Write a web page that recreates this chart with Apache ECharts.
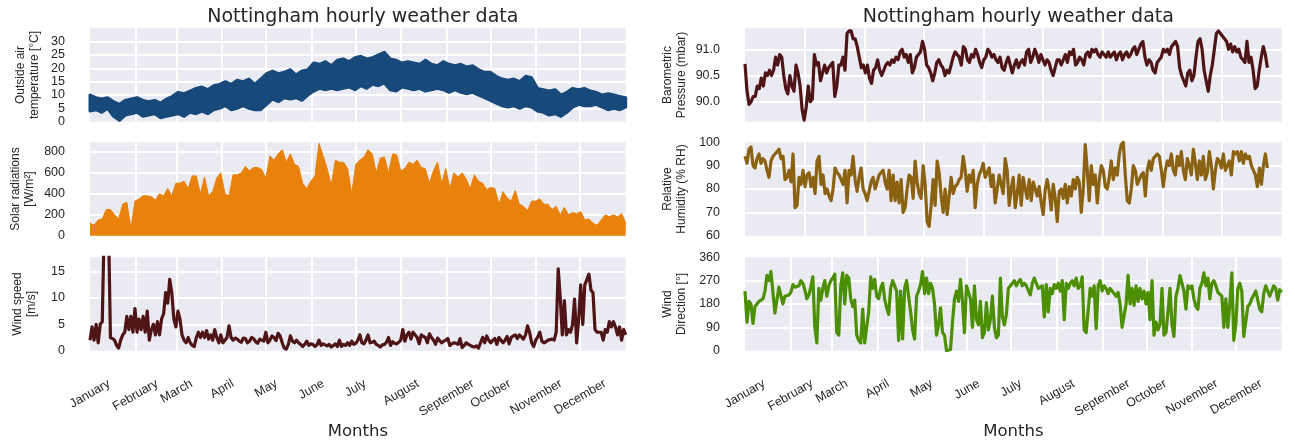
<!DOCTYPE html>
<html><head><meta charset="utf-8">
<script src="https://cdn.jsdelivr.net/npm/echarts@6/dist/echarts.min.js"></script>
<style>html,body{margin:0;padding:0;background:#fff}#c{width:1295px;height:444px}</style>
</head><body><div id="c"></div>
<script>
const titleText = 'Nottingham hourly weather data';
const months = ['January','February','March','April','May','June','July','August','September','October','November','December'];
const monthStartDays = [0,31,59,90,120,151,181,212,243,273,304,334];

// Outside air temperature: upper / lower envelope of hourly values, every ~4 days
const tempHigh = [10,9,8.5,9,7.5,6.5,8,8.5,9,8,7.5,8,7,8.5,9.5,11,10.5,11.5,12.5,13,12,13.5,14,15,14,15.5,15,16,14,16,18,19,18,18.5,19.5,17.5,19,19.5,22,21.5,22.5,21,23,23.5,22.5,24,24.5,23.5,24,25,26,23.5,23,22,22.5,22,21.5,23,21.5,21,22.5,21.5,21,21.5,20.5,21,19.5,18.5,18.5,17,16,15.5,16,15,17,16.5,12.5,12,11.5,12,10,11,12.5,12,12.5,11.5,11,10,10.5,10,9.5,9];
const tempLow = [4,4.5,3.5,5,2,0.5,2.5,3,3.5,2,2.5,3,1.5,2,2.5,3,2,3.5,3,4,3,4.5,5,6,4.5,5,6,5,4.5,4.5,6.5,8.5,7.5,9,8.5,9,8,10,11.5,12.5,12,12.5,12,12.5,13,12,13.5,12.5,14,13.5,14.5,12,11.5,13,12.5,12,12.5,11.5,12,12.5,12,11,12,11,10.5,11,10,9,8,7,6,5.5,6,5,6,5.5,4,3.5,2.5,3,2,3.5,5.5,6.5,6,6,6.5,5.5,4.5,5,4.5,5.5];

// Solar radiation: daily peak values (W/m2)
const solarPeak = [120,100,150,160,250,250,200,160,300,320,70,330,350,380,380,370,340,400,380,450,380,500,500,520,450,570,570,400,560,380,420,550,600,400,380,580,580,600,660,620,650,650,630,550,760,720,780,820,700,780,680,660,500,450,520,570,880,760,640,480,720,700,700,640,400,680,720,750,820,780,600,740,750,600,780,770,620,640,700,680,720,650,640,500,620,700,500,640,450,600,560,600,540,450,580,520,500,440,460,450,300,420,360,330,430,300,280,240,330,330,350,300,300,250,280,200,270,200,220,210,230,150,160,120,100,150,200,180,200,180,210,120];

// Wind speed (m/s)
const windSpeed = [2,4.5,2,5,1.5,5,5.5,25,27,25,2.5,2.3,2,1,0.5,2,3,3.5,6.5,4,6.5,3.5,8,3.5,6,4,6.5,3.5,7.5,2,4,5,3,5.5,3,6,7,11,9,13.5,11,6,4.5,7.5,6,3,2,1.5,2.5,1.5,1,0.8,2.5,3.5,2.5,3.5,2.5,3.8,2.2,3,2,4,2.5,1.5,3,1.5,2,2.5,4.7,2.5,2,2.4,2.2,1.8,1.6,2.4,2.3,1.5,1.8,2.5,2.3,1.7,1.4,2.2,2,1.8,3.5,1.5,2,2.8,2.5,1.9,3.3,2.8,1.5,0.5,0.3,1.2,2.8,1.8,1.5,2,1.5,1.2,0.8,1.2,1.8,1,1.3,1.2,0.8,1.1,2,1,1.3,1.1,0.9,1.2,0.7,1,1.3,0.8,2,0.8,1.2,1,1.5,1,1.8,1.2,1.4,2,3,1.5,1.3,2,3,1.5,1.6,1.8,1.2,1,0.7,1.1,1.2,1.6,2.5,1,1.7,1.4,1.3,1.6,2,4,1.8,3,3.5,2.2,3.5,3,2.5,1.3,3,2.7,2.5,1.5,3.2,2.5,2,1.2,2.4,1.9,1.5,1.8,2,2.3,1,1.3,1.5,1.4,1.2,2.3,0.6,1,1.5,1.2,1,0.8,0.7,0.9,0.5,1.5,2.5,1.5,2.8,2,1.5,2,2.3,1.2,2.5,2,1.5,2,2.7,1.3,2.5,2.8,3,2.3,3,2.6,2.2,3,4.7,3.5,1.5,0.8,2,2.6,3.5,1.8,1.5,1.7,2,2.1,2.2,2,3.5,15.5,10,3,9.5,3,4,3.5,5,9.8,1.5,6,12.5,5,12.5,13.5,14.5,11.5,11,4,3.5,3.5,3.5,2,4,3.5,5.5,4.5,5.5,4.5,3,4.5,2,4,3];

// Barometric pressure (mbar, as plotted)
const pressure = [90.72,90.2,89.95,90.0,90.1,90.1,90.3,90.25,90.45,90.3,90.55,90.5,90.6,90.5,90.6,90.85,90.7,90.9,90.85,90.5,90.25,90.15,90.5,90.3,90.2,90.7,90.55,90.3,89.85,89.65,89.9,90.3,90.0,90.05,90.9,90.7,90.75,90.4,90.55,90.7,90.55,90.65,90.7,90.75,90.1,90.3,90.7,90.7,90.85,90.6,91.3,91.35,91.35,91.2,91.2,91.05,90.85,90.65,90.7,90.55,90.7,90.45,90.35,90.6,90.65,90.8,90.6,90.5,90.6,90.7,90.75,90.7,90.8,90.75,90.85,90.8,90.95,91.0,90.85,90.9,90.75,90.9,90.55,90.65,90.85,90.9,90.95,91.15,91.0,90.7,90.65,90.55,90.4,90.55,90.75,90.8,90.7,90.65,90.5,90.6,90.55,90.7,90.85,90.95,90.9,90.85,90.7,91.05,91.0,90.8,90.75,90.9,90.85,91.0,90.9,90.75,90.65,90.8,90.85,91.0,90.95,90.85,90.9,90.8,90.75,90.85,90.65,90.6,90.75,90.85,90.7,90.55,90.7,90.8,90.65,90.75,90.8,90.7,90.95,91.0,90.75,90.85,91.0,90.9,90.75,90.9,90.8,90.7,90.8,90.75,90.6,90.5,90.65,90.8,90.8,90.7,90.8,90.9,90.75,90.95,90.9,91.0,90.7,90.75,90.85,90.8,90.7,90.9,90.95,90.85,91.0,90.95,91.0,90.9,90.85,90.95,90.9,90.85,90.95,90.85,90.9,90.95,90.8,90.9,90.95,90.8,90.9,90.95,90.85,90.9,91.0,91.05,90.9,91.0,91.1,91.15,90.85,90.7,90.8,90.75,90.6,90.55,90.75,90.8,90.85,91.0,90.95,91.0,90.9,91.05,91.1,91.15,91.05,90.65,90.5,90.4,90.3,90.55,90.6,90.4,90.5,90.85,91.15,91.2,91.0,90.6,90.4,90.2,90.5,90.7,91.0,91.3,91.35,91.3,91.25,91.2,91.15,91.0,91.1,90.95,91.05,90.95,91.0,90.85,90.8,90.75,91.15,90.75,90.85,90.6,90.25,90.3,90.6,90.85,91.05,90.9,90.65];

// Relative humidity (% RH)
const humidity = [94,91,97,98,90,89,93,95,91,93,92,88,85,92,94,95,96,97,93,94,84,85,88,83,95,72,73,85,82,88,81,86,87,81,85,78,92,94,82,86,78,80,77,75,80,89,87,86,84,82,88,74,88,86,94,84,79,85,89,80,78,75,79,83,85,80,83,86,87,88,83,80,88,75,86,75,83,74,84,70,72,80,86,85,76,92,83,78,76,90,82,66,64,73,84,73,92,87,77,70,80,69,77,85,78,81,82,84,85,94,88,79,86,83,88,72,82,86,88,91,85,87,89,81,86,74,80,86,82,78,93,88,73,80,85,72,78,86,73,85,80,76,84,75,83,80,77,81,74,69,80,84,79,71,82,76,66,79,80,76,82,74,81,77,84,80,85,83,70,80,99,88,75,90,82,86,74,84,90,88,81,80,85,92,84,89,86,95,99,100,86,75,74,80,90,88,82,84,86,87,77,88,92,88,93,94,95,94,88,81,88,92,90,95,88,86,94,90,96,88,84,93,90,86,97,91,84,92,86,94,84,87,96,90,80,88,93,92,89,95,88,90,92,86,96,95,96,92,96,91,95,93,94,90,88,86,81,89,82,90,95,89];

// Wind direction (degrees)
const windDir = [230,110,190,180,105,170,175,190,195,200,230,290,270,305,300,145,150,245,240,180,210,215,215,225,255,245,240,250,270,260,235,200,215,245,285,90,30,240,195,240,270,210,250,270,280,295,70,60,250,300,180,290,280,200,170,195,60,40,30,160,30,25,150,285,240,275,210,200,240,260,200,165,140,240,270,250,230,40,230,45,240,270,265,150,80,45,210,230,255,305,220,280,220,260,240,180,60,100,165,70,60,0,0,5,110,200,230,190,275,190,70,250,250,200,90,250,120,100,190,50,70,185,80,120,210,90,50,60,280,130,100,140,240,250,260,270,250,265,275,250,260,250,250,215,260,280,260,240,240,250,130,255,150,240,220,255,240,260,230,270,120,260,240,260,270,250,280,240,250,285,80,70,70,240,210,250,85,250,270,230,250,240,220,240,230,220,210,225,180,90,90,180,290,180,240,175,250,190,240,200,230,180,225,120,270,60,110,80,100,240,60,70,150,240,100,55,210,240,290,260,230,160,250,240,250,200,170,160,240,260,300,250,280,200,260,270,250,225,230,210,90,200,90,180,300,40,100,240,260,230,55,60,170,180,200,215,230,225,160,150,220,250,230,210,230,250,240,195,235,225];

const C = {temp:'#17497a', solar:'#e8820a', wind:'#4e1416', press:'#4e1416', hum:'#8b6212', dir:'#4c8f03', text:'#262626', bg:'#eaeaf2'};
const SANS = 'Liberation Sans';

function spread(arr, span){ return arr.map((v,i)=>[i*span/(arr.length-1), v]); }
const dayCats = Array.from({length:366}, (_, d) => String(d));

// rotated month labels: centre each label on its tick, top of rotated box on one line
const LBL = 12.5;
const meas = document.createElement('canvas').getContext('2d');
meas.font = LBL + 'px "' + SANS + '"';
const monthRich = {};
months.forEach((n,i)=>{
  const w = meas.measureText(n).width;
  const D = (w*0.5 + LBL*0.92*0.866)/2 + 0.5;
  monthRich['m'+i] = {fontSize:LBL, fontFamily:SANS, color:C.text, padding:[1.732*D, D, 0, 0]};
});

const GL = {left:90, width:535.7}, GR = {left:745, width:536.7};
const tops = [28.3, 142.3, 257.3], H = 93.4;
const grids = [];
[GL, GR].forEach(g => tops.forEach(t => grids.push({left:g.left, width:g.width, top:t, height:H, show:true, backgroundColor:C.bg, borderWidth:0})));

const splitStyle = {color:'#ffffff', width:2};
function isMonthStart(i){ return i>0 && monthStartDays.indexOf(i) >= 0; }
function dayValueAxis(gi){ return {type:'value', gridIndex:gi, min:0, max:365, show:false, position:'bottom'}; }
function monthAxis(gi, labels){
  const ax = {type:'category', gridIndex:gi, position:'bottom', data:dayCats, boundaryGap:false,
    axisLine:{show:false}, axisTick:{show:false},
    splitLine:{show:true, interval:(i)=>isMonthStart(i), lineStyle:splitStyle},
    axisLabel:{show:false}};
  if (labels) {
    ax.axisLabel = {show:true, interval:(i)=>monthStartDays.indexOf(i)>=0, rotate:30, align:'center', verticalAlign:'middle', margin:26.5,
      formatter:(v)=>{ const m = monthStartDays.indexOf(Number(v)); return m<0 ? '' : '{m'+m+'|'+months[m]+'}'; }, rich:monthRich};
    ax.name = 'Months'; ax.nameLocation = 'middle'; ax.nameGap = 73;
    ax.nameTextStyle = {fontFamily:'DejaVu Sans', fontSize:16.5, color:C.text};
  }
  return ax;
}
function hourAxis(gi){ return {type:'value', gridIndex:gi, min:0, max:9000, interval:1000, position:'bottom',
  axisLine:{show:false}, axisTick:{show:false}, axisLabel:{show:false},
  splitLine:{show:true, showMinLine:false, showMaxLine:false, lineStyle:splitStyle}}; }

function yAx(gi, name, gap, o){
  return Object.assign({type:'value', gridIndex:gi, position:'left', axisLine:{show:false}, axisTick:{show:false},
    splitLine:{show:true, showMinLine:false, showMaxLine:false, lineStyle:splitStyle},
    name:name, nameLocation:'middle', nameRotate:90, nameGap:gap,
    nameTextStyle:{fontFamily:SANS, fontSize:12, color:C.text, lineHeight:14},
    axisLabel:Object.assign({fontFamily:SANS, fontSize:12.5, color:C.text, margin:25}, o.label||{})}, o.axis);
}

const xAxis = [
  dayValueAxis(0), monthAxis(0,false),
  dayValueAxis(1), monthAxis(1,false),
  dayValueAxis(2), monthAxis(2,true),
  hourAxis(3), hourAxis(4),
  dayValueAxis(5), monthAxis(5,true)
];
const yAxis = [
  yAx(0, 'Outside air\ntemperature [°C]', 48, {axis:{min:0, max:35, interval:5}, label:{showMaxLabel:false}}),
  yAx(1, 'Solar radiations\n[W/m²]', 53, {axis:{min:0, max:890, interval:200}, label:{showMaxLabel:false}}),
  yAx(2, 'Wind speed\n[m/s]', 51, {axis:{min:0, max:17.7, interval:5}, label:{showMaxLabel:false}}),
  yAx(3, 'Barometric\nPressure (mbar)', 56, {axis:{min:89.62, max:91.40, splitNumber:4}, label:{showMinLabel:false, showMaxLabel:false, formatter:(v)=>v.toFixed(1)}}),
  yAx(4, 'Relative\nHumidity (% RH)', 56, {axis:{min:60, max:100, interval:10}}),
  yAx(5, 'Wind\nDirection [°]', 56, {axis:{min:0, max:360, interval:90}})
];

function lineS(xi, yi, data, color, width, extra){
  return Object.assign({type:'line', xAxisIndex:xi, yAxisIndex:yi, data:data, symbol:'none', showSymbol:false,
    lineStyle:{color:color, width:width, join:'round'}, itemStyle:{color:color}, silent:true, animation:false}, extra||{});
}

// temperature band: polygon between the lower and upper envelopes, placed with the axis scales
const tempBandData = tempLow.map((lo,i)=>[i*365/(tempLow.length-1), lo, tempHigh[i]]);
const tempBand = {
  type:'custom', xAxisIndex:0, yAxisIndex:0, data:tempBandData, silent:true, animation:false,
  renderItem:function(params, api){
    if (params.dataIndex !== 0) return null;
    const n = params.dataInsideLength;
    const up = [], down = [];
    for (let k=0;k<n;k++){
      up.push(api.coord([api.value(0,k), api.value(2,k)]));
      down.push(api.coord([api.value(0,k), api.value(1,k)]));
    }
    const pts = up.concat(down.reverse());
    return {type:'polygon', shape:{points:pts}, style:{fill:C.temp, stroke:C.temp, lineWidth:3, lineJoin:'round'}};
  }
};

const series = [
  tempBand,
  lineS(2, 1, spread(solarPeak, 365), C.solar, 1, {areaStyle:{color:C.solar, opacity:1}}),
  lineS(4, 2, spread(windSpeed, 365), C.wind, 3.2),
  lineS(6, 3, spread(pressure, 8760), C.press, 3.2),
  lineS(7, 4, spread(humidity, 8760), C.hum, 3.2),
  lineS(8, 5, spread(windDir, 365), C.dir, 3.2)
];

const titleStyle = {fontFamily:'DejaVu Sans', fontSize:19, fontWeight:'normal', color:C.text};
const chart = echarts.init(document.getElementById('c'), null, {renderer:'canvas'});
chart.setOption({
  animation:false,
  backgroundColor:'#ffffff',
  title:[
    {text:titleText, left:GL.left + GL.width/2, top:3, textAlign:'center', textStyle:titleStyle},
    {text:titleText, left:GR.left + GR.width/2, top:3, textAlign:'center', textStyle:titleStyle}
  ],
  grid:grids, xAxis:xAxis, yAxis:yAxis, series:series
});
</script></body></html>
